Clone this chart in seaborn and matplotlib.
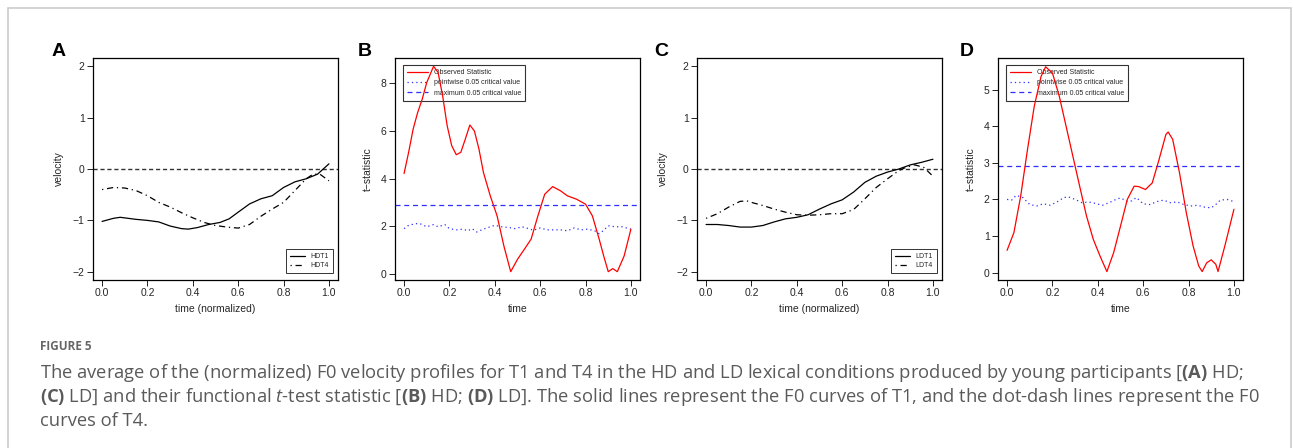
import numpy as np
import pandas as pd
import seaborn as sns
import matplotlib.pyplot as plt
from matplotlib.patches import Rectangle

# ---- data ----
# panel A: HD velocity profiles
hd_t = [0.0, 0.05, 0.08, 0.15, 0.2, 0.25, 0.3, 0.35, 0.38, 0.42, 0.47, 0.52, 0.56, 0.6,
        0.65, 0.7, 0.75, 0.8, 0.85, 0.9, 0.95, 1.0]
hdt1 = [-1.02, -0.96, -0.94, -0.98, -1.0, -1.03, -1.11, -1.16, -1.17, -1.14, -1.08, -1.04,
        -0.97, -0.84, -0.68, -0.58, -0.52, -0.36, -0.25, -0.19, -0.1, 0.1]
hdt4_t = [0.0, 0.05, 0.1, 0.15, 0.2, 0.25, 0.3, 0.35, 0.4, 0.45, 0.5, 0.55, 0.6, 0.65,
          0.7, 0.75, 0.8, 0.85, 0.9, 0.93, 0.96, 1.0]
hdt4 = [-0.4, -0.36, -0.37, -0.42, -0.52, -0.65, -0.74, -0.85, -0.95, -1.04, -1.1, -1.13,
        -1.15, -1.08, -0.92, -0.78, -0.65, -0.42, -0.19, -0.1, -0.1, -0.23]

# panel C: LD velocity profiles
ldt1_t = [0.0, 0.05, 0.1, 0.15, 0.2, 0.25, 0.3, 0.35, 0.4, 0.45, 0.5, 0.55, 0.6, 0.65,
          0.7, 0.75, 0.8, 0.85, 0.9, 0.95, 1.0]
ldt1 = [-1.08, -1.08, -1.1, -1.13, -1.13, -1.1, -1.03, -0.97, -0.94, -0.89, -0.78, -0.68,
        -0.6, -0.45, -0.26, -0.14, -0.06, 0.0, 0.08, 0.13, 0.19]
ldt4_t = [0.0, 0.05, 0.1, 0.15, 0.18, 0.2, 0.25, 0.3, 0.35, 0.4, 0.45, 0.5, 0.55, 0.6,
          0.65, 0.7, 0.75, 0.8, 0.85, 0.88, 0.92, 0.96, 1.0]
ldt4 = [-0.96, -0.87, -0.74, -0.63, -0.62, -0.65, -0.71, -0.78, -0.84, -0.89, -0.9, -0.89,
        -0.87, -0.87, -0.79, -0.58, -0.36, -0.19, -0.03, 0.03, 0.08, 0.03, -0.14]

# panel B: HD t-statistic
b_t = [0.0, 0.02, 0.04, 0.06, 0.08, 0.1, 0.13, 0.15, 0.17, 0.19, 0.21, 0.23, 0.25, 0.27,
       0.29, 0.31, 0.33, 0.35, 0.38, 0.41, 0.44, 0.47, 0.5, 0.53, 0.56, 0.59, 0.62, 0.655,
       0.69, 0.72, 0.76, 0.8, 0.83, 0.86, 0.88, 0.9, 0.92, 0.94, 0.97, 1.0]
b_obs = [4.21, 5.1, 6.08, 6.78, 7.34, 8.04, 8.72, 8.46, 7.48, 6.22, 5.38, 5.0, 5.1, 5.66,
         6.25, 6.0, 5.24, 4.25, 3.27, 2.43, 1.16, 0.08, 0.6, 1.02, 1.45, 2.43, 3.34, 3.66,
         3.48, 3.27, 3.13, 2.92, 2.43, 1.45, 0.74, 0.08, 0.21, 0.08, 0.74, 1.87]
b_pw_t = [0.0, 0.02, 0.05, 0.07, 0.1, 0.13, 0.15, 0.18, 0.2, 0.23, 0.26, 0.28, 0.3, 0.32,
          0.35, 0.38, 0.4, 0.43, 0.46, 0.49, 0.52, 0.55, 0.57, 0.6, 0.63, 0.66, 0.69, 0.72,
          0.75, 0.78, 0.81, 0.84, 0.86, 0.88, 0.9, 0.93, 0.96, 1.0]
b_pw = [1.89, 2.03, 2.1, 2.1, 1.97, 2.06, 1.97, 2.06, 1.89, 1.84, 1.87, 1.8, 1.89, 1.75,
        1.87, 1.97, 2.03, 1.97, 1.94, 1.89, 1.97, 1.89, 1.82, 1.92, 1.84, 1.84, 1.84, 1.8,
        1.92, 1.84, 1.87, 1.8, 1.68, 1.82, 2.01, 1.97, 1.97, 1.87]
b_max = 2.9

# panel D: LD t-statistic
d_t = [0.0, 0.03, 0.06, 0.09, 0.12, 0.15, 0.17, 0.2, 0.23, 0.26, 0.29, 0.32, 0.35, 0.38,
       0.41, 0.44, 0.47, 0.5, 0.53, 0.56, 0.58, 0.61, 0.64, 0.67, 0.7, 0.71, 0.73, 0.76,
       0.79, 0.82, 0.845, 0.86, 0.88, 0.9, 0.92, 0.93, 0.96, 1.0]
d_obs = [0.61, 1.09, 2.09, 3.36, 4.55, 5.36, 5.62, 5.45, 4.82, 4.0, 3.18, 2.36, 1.55, 0.91,
         0.45, 0.03, 0.55, 1.27, 2.0, 2.36, 2.35, 2.27, 2.45, 3.09, 3.77, 3.84, 3.64, 2.73,
         1.64, 0.73, 0.18, 0.03, 0.27, 0.35, 0.23, 0.03, 0.73, 1.73]
d_pw_t = [0.0, 0.02, 0.04, 0.07, 0.1, 0.13, 0.16, 0.19, 0.22, 0.25, 0.27, 0.3, 0.33, 0.36,
          0.39, 0.42, 0.45, 0.48, 0.5, 0.53, 0.55, 0.57, 0.6, 0.63, 0.66, 0.69, 0.72, 0.75,
          0.78, 0.81, 0.84, 0.87, 0.9, 0.92, 0.94, 0.97, 1.0]
d_pw = [2.0, 1.98, 2.11, 2.05, 1.86, 1.82, 1.88, 1.84, 1.93, 2.05, 2.07, 2.0, 1.91, 1.93,
        1.89, 1.84, 1.91, 2.0, 2.04, 1.95, 1.96, 2.05, 1.88, 1.86, 1.94, 1.98, 1.91, 1.93,
        1.86, 1.82, 1.84, 1.79, 1.77, 1.86, 1.98, 2.0, 1.94]
d_max = 2.9

x_ticks = [0.0, 0.2, 0.4, 0.6, 0.8, 1.0]

sns.set_style("ticks")
plt.rcParams['font.family'] = ['Liberation Sans', 'DejaVu Sans']
plt.rcParams['mathtext.fontset'] = 'custom'
plt.rcParams['mathtext.rm'] = 'Open Sans'
plt.rcParams['mathtext.bf'] = 'Open Sans:bold'
plt.rcParams['mathtext.it'] = 'Open Sans:italic'

fig = plt.figure(figsize=(12.93, 4.48), dpi=100)

W, H = 1293, 448
def add_ax(left_px):
    return fig.add_axes([left_px / W, (H - 280) / H, 245 / W, 222 / H])

axA = add_ax(93)
axB = add_ax(395)
axC = add_ax(697)
axD = add_ax(998)

dotdash = (1, 3, 5, 3)


def style_ax(ax, xlabel, ylabel):
    ax.set_xlim(-0.04, 1.04)
    ax.set_xticks(x_ticks)
    ax.set_xticklabels(["%.1f" % v for v in x_ticks])
    ax.set_xlabel(xlabel, fontsize=7.5, labelpad=4)
    ax.set_ylabel(ylabel, fontsize=7.5, labelpad=6)
    ax.tick_params(labelsize=7.5, direction='out', length=4, width=0.7, pad=2, color='#222')
    for s in ax.spines.values():
        s.set_visible(True)
        s.set_linewidth(0.9)
        s.set_color('black')


def velocity_panel(ax, t1x, t1y, t4x, t4y, names):
    ax.axhline(0, color='#333333', lw=1.0, dashes=(3, 2), zorder=1)
    sns.lineplot(x=t1x, y=t1y, ax=ax, color='black', lw=0.9, label=names[0])
    sns.lineplot(x=t4x, y=t4y, ax=ax, color='black', lw=0.9, dashes=False, label=names[1])
    ax.lines[-1].set_dashes(dotdash)
    ax.set_ylim(-2.16, 2.16)
    ax.set_yticks([-2, -1, 0, 1, 2])
    style_ax(ax, "time (normalized)", "velocity")
    leg = ax.legend(loc='lower right', fontsize=5, frameon=True, fancybox=False,
                    edgecolor='black', handlelength=2.2, borderpad=0.6, borderaxespad=0,
                    labelspacing=0.3, bbox_to_anchor=(0.98, 0.03))
    leg.get_frame().set_linewidth(0.7)


def tstat_panel(ax, tx, obs, pwx, pw, mx, ylim, yticks):
    sns.lineplot(x=tx, y=obs, ax=ax, color='red', lw=0.9, label="Observed Statistic",
                 zorder=3)
    sns.lineplot(x=pwx, y=pw, ax=ax, color='#2f2fff', lw=0.9,
                 label="pointwise 0.05 critical value")
    ax.lines[-1].set_dashes((1, 2.5))
    ax.axhline(mx, color='#2f2fff', lw=0.9, dashes=(4, 3),
               label="maximum 0.05 critical value")
    ax.set_ylim(*ylim)
    ax.set_yticks(yticks)
    style_ax(ax, "time", "t\u2212statistic")
    leg = ax.legend(loc='upper left', fontsize=5, frameon=True, fancybox=False,
                    edgecolor='black', handlelength=3, borderpad=0.6, labelspacing=0.45,
                    borderaxespad=0, bbox_to_anchor=(0.033, 0.968))
    leg.get_frame().set_linewidth(0.8)
    leg.get_frame().set_facecolor('none')
    leg.set_zorder(2)


velocity_panel(axA, hd_t, hdt1, hdt4_t, hdt4, ["HDT1", "HDT4"])
tstat_panel(axB, b_t, b_obs, b_pw_t, b_pw, b_max, (-0.27, 9.07), [0, 2, 4, 6, 8])
velocity_panel(axC, ldt1_t, ldt1, ldt4_t, ldt4, ["LDT1", "LDT4"])
tstat_panel(axD, d_t, d_obs, d_pw_t, d_pw, d_max, (-0.2, 5.86), [0, 1, 2, 3, 4, 5])

# panel letters
for letter, xp in [("A", 52), ("B", 358), ("C", 654), ("D", 960)]:
    fig.text(xp / W, 1 - 52 / H, letter, fontsize=14, fontweight='bold',
             ha='left', va='center', color='black')

# outer frame
fig.patches.append(Rectangle((8 / W, -0.01), (1291 - 8) / W, (448 - 8) / H + 0.01,
                             transform=fig.transFigure, fill=False,
                             edgecolor='#cccccc', lw=1.2))

# caption
cap_col = '#5a5a5a'
fig.text(40 / W, 1 - 350 / H, "FIGURE 5", fontsize=8.5, fontweight='bold',
         family='Open Sans', color='#666666', ha='left', va='baseline')
lines = [
    r"The average of the (normalized) F0 velocity profiles for T1 and T4 in the HD and LD "
    r"lexical conditions produced by young participants [$\mathbf{(A)}$ HD;",
    r"$\mathbf{(C)}$ LD] and their functional $\mathit{t}$-test statistic [$\mathbf{(B)}$ HD; "
    r"$\mathbf{(D)}$ LD]. The solid lines represent the F0 curves of T1, and the dot-dash lines "
    r"represent the F0",
    r"curves of T4.",
]
for i, ln in enumerate(lines):
    fig.text(40 / W, 1 - (378 + 24 * i) / H, ln, fontsize=13.2, family='Open Sans',
             color=cap_col, ha='left', va='baseline')

fig.savefig("out.png", dpi=100)
